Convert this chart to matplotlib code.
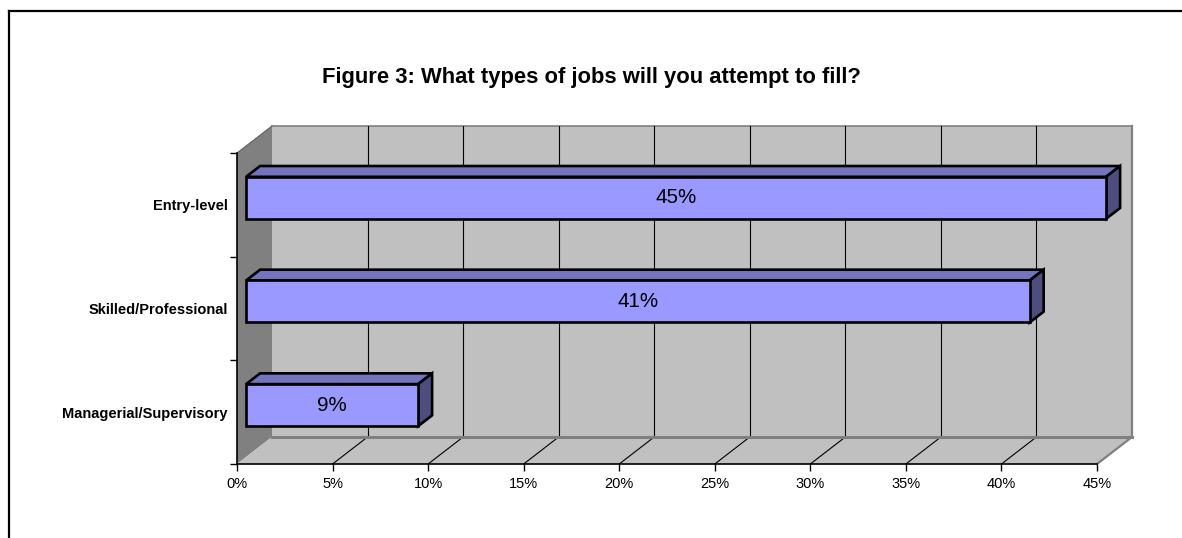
import matplotlib
matplotlib.use("Agg")
import matplotlib.pyplot as plt
from matplotlib.patches import Polygon
from matplotlib.lines import Line2D

# ---- data -------------------------------------------------------------
categories = ["Managerial/Supervisory", "Skilled/Professional", "Entry-level"]
values = [9, 41, 45]
value_labels = ["9%", "41%", "45%"]
x_ticks = [0, 5, 10, 15, 20, 25, 30, 35, 40, 45]
x_tick_labels = ["0%", "5%", "10%", "15%", "20%", "25%", "30%", "35%", "40%", "45%"]
title = "Figure 3: What types of jobs will you attempt to fill?"

# ---- styling ----------------------------------------------------------
FONT = "Liberation Sans"
FRONT = "#9999FF"
TOP = "#7373BF"
SIDE = "#4D4D80"
WALL = "#C0C0C0"
SIDE_WALL = "#808080"
EDGE_GRAY = "#808080"

W, H, DPI = 1182, 538, 100
DEPTH_PX = (35.0, 27.0)          # oblique offset of the back plane, in pixels
BAR_FRONT, BAR_BACK = 0.26, 0.66  # bar depth as a fraction of the full depth
BAR_HALF = 0.2026                # half bar height in category units
XMAX, NCAT = 45, len(categories)

fig = plt.figure(figsize=(W / DPI, H / DPI), dpi=DPI)
fig.patch.set_facecolor("white")

# front plane of the plot area
left, right, top, bottom = 237, 1097, 153, 464
ax = fig.add_axes([left / W, 1 - bottom / H, (right - left) / W, (bottom - top) / H])
ax.set_xlim(0, XMAX)
ax.set_ylim(0, NCAT)
ax.patch.set_visible(False)

# pixel depth offset converted into data units
DX = DEPTH_PX[0] * XMAX / (right - left)
DY = DEPTH_PX[1] * NCAT / (bottom - top)


def P(x, y, d):
    return (x + d * DX, y + d * DY)


def poly(pts, **kw):
    p = Polygon(pts, closed=True, clip_on=False, **kw)
    ax.add_patch(p)
    return p


# walls and floor
poly([P(0, 0, 1), P(XMAX, 0, 1), P(XMAX, NCAT, 1), P(0, NCAT, 1)],
     facecolor=WALL, edgecolor="none", zorder=1)
poly([P(0, 0, 0), P(0, 0, 1), P(0, NCAT, 1), P(0, NCAT, 0)],
     facecolor=SIDE_WALL, edgecolor="none", zorder=1)
poly([P(0, 0, 0), P(XMAX, 0, 0), P(XMAX, 0, 1), P(0, 0, 1)],
     facecolor=WALL, edgecolor="none", zorder=1)

# wall outlines
def seg(a, b, **kw):
    ax.add_line(Line2D([a[0], b[0]], [a[1], b[1]], clip_on=False, **kw))

seg(P(0, NCAT, 1), P(XMAX, NCAT, 1), color=EDGE_GRAY, lw=1.2, zorder=2)
seg(P(XMAX, NCAT, 1), P(XMAX, 0, 1), color=EDGE_GRAY, lw=1.6, zorder=2)
seg(P(XMAX, 0, 1), P(XMAX, 0, 0), color=EDGE_GRAY, lw=1.6, zorder=2)
seg(P(0, NCAT, 0), P(0, NCAT, 1), color="#606060", lw=0.8, zorder=2)

# gridlines on back wall and floor
for t in x_ticks[1:-1]:
    seg(P(t, 0, 1), P(t, NCAT, 1), color="black", lw=0.8, zorder=2)
    seg(P(t, 0, 0), P(t, 0, 1), color="black", lw=0.8, zorder=2)
seg(P(0, 0, 1), P(XMAX, 0, 1), color=EDGE_GRAY, lw=2.2, zorder=2.5)

# 3-D bars
for i, (v, lab) in enumerate(zip(values, value_labels)):
    c = i + 0.5
    y0, y1 = c - BAR_HALF, c + BAR_HALF
    kw = dict(edgecolor="black", linewidth=1.9, joinstyle="miter", zorder=4)
    poly([P(0, y1, BAR_FRONT), P(v, y1, BAR_FRONT), P(v, y1, BAR_BACK), P(0, y1, BAR_BACK)],
         facecolor=TOP, **kw)
    poly([P(v, y0, BAR_FRONT), P(v, y0, BAR_BACK), P(v, y1, BAR_BACK), P(v, y1, BAR_FRONT)],
         facecolor=SIDE, **kw)
    poly([P(0, y0, BAR_FRONT), P(v, y0, BAR_FRONT), P(v, y1, BAR_FRONT), P(0, y1, BAR_FRONT)],
         facecolor=FRONT, **kw)
    cx, cy = P(v / 2, c, BAR_FRONT)
    ax.text(cx, cy, lab, ha="center", va="center", fontsize=14.8,
            family=FONT, color="black", zorder=5)

# axes
for s in ("top", "right"):
    ax.spines[s].set_visible(False)
for s in ("left", "bottom"):
    ax.spines[s].set_color("black")
    ax.spines[s].set_linewidth(1.2)
    ax.spines[s].set_zorder(6)

ax.set_xticks(x_ticks)
ax.set_xticklabels(x_tick_labels, family=FONT, fontsize=10.5)
ax.set_yticks(range(NCAT + 1))
ax.set_yticklabels([])
ax.set_yticks([i + 0.5 for i in range(NCAT)], minor=True)
ax.set_yticklabels(categories, minor=True, family=FONT, fontsize=10.5, fontweight="bold")
ax.tick_params(axis="x", direction="out", length=5, width=1, pad=4, colors="black")
ax.tick_params(axis="y", which="major", direction="out", length=5, width=1, colors="black")
ax.tick_params(axis="y", which="minor", length=0, pad=6.5)

# title
fig.text(591 / W, 1 - 77 / H, title, ha="center", va="center",
         fontsize=15.8, fontweight="bold", family=FONT)

# frame around the chart area
fig.add_artist(Line2D([9 / W, 1.0], [1 - 11 / H, 1 - 11 / H], color="black", lw=1.6,
                      transform=fig.transFigure))
fig.add_artist(Line2D([9 / W, 9 / W], [0.0, 1 - 11 / H], color="black", lw=1.6,
                      transform=fig.transFigure))

fig.savefig("out.png", dpi=DPI, facecolor="white")
